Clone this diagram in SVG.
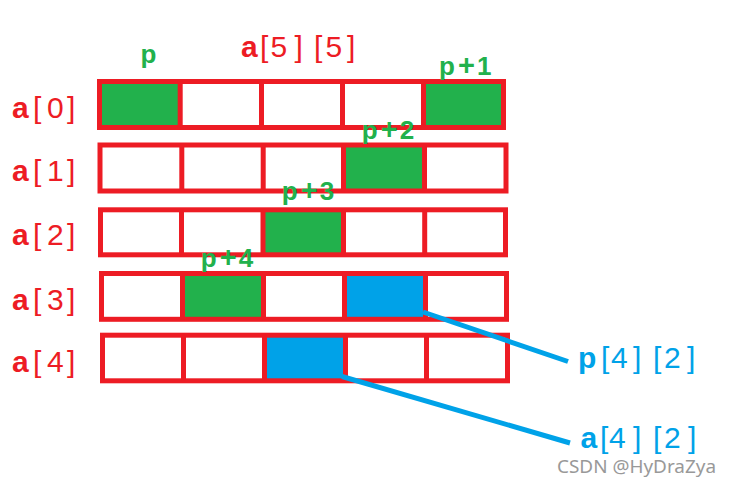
<svg xmlns="http://www.w3.org/2000/svg" width="732" height="488" viewBox="0 0 732 488">
<style>
.box{fill:none;stroke:#ED1C24;stroke-width:5}
.sep{stroke:#ED1C24;stroke-width:5}
.g{fill:#22B14C}
.b{fill:#00A2E8}
.lbl{font-family:"Liberation Sans",Arial,sans-serif;font-size:30px;font-weight:normal}
.red{fill:#ED1C24}
.blue{fill:#00A2E8}
.bold{font-weight:bold}
.gl{font-family:"Liberation Sans",Arial,sans-serif;font-size:26px;font-weight:bold;fill:#22B14C}
.plus{font-size:29px}
.conn{stroke:#00A2E8;stroke-width:5;fill:none}
.wm{font-family:"Noto Sans","Open Sans",sans-serif;font-size:18px;fill:#999999}
</style>
<rect width="732" height="488" fill="#ffffff"/>

<g id="row0">
<rect class="g" x="99.5" y="81.5" width="80.7" height="46"/>
<rect class="g" x="423.5" y="81.5" width="80" height="46"/>
<rect class="box" x="99.5" y="81.5" width="404" height="46"/>
<line class="sep" x1="180.2" y1="81.5" x2="180.2" y2="127.5"/>
<line class="sep" x1="261.5" y1="81.5" x2="261.5" y2="127.5"/>
<line class="sep" x1="342.5" y1="81.5" x2="342.5" y2="127.5"/>
<line class="sep" x1="423.5" y1="81.5" x2="423.5" y2="127.5"/>
</g>

<g id="row1">
<rect class="g" x="343.5" y="145" width="81" height="46"/>
<rect class="box" x="100" y="145" width="406" height="46"/>
<line class="sep" x1="181.8" y1="145" x2="181.8" y2="191"/>
<line class="sep" x1="263.2" y1="145" x2="263.2" y2="191"/>
<line class="sep" x1="343.5" y1="145" x2="343.5" y2="191"/>
<line class="sep" x1="424.5" y1="145" x2="424.5" y2="191"/>
</g>

<g id="row2">
<rect class="g" x="263" y="209.8" width="80.5" height="45"/>
<rect class="box" x="100.5" y="209.8" width="405" height="45"/>
<line class="sep" x1="181.5" y1="209.8" x2="181.5" y2="254.8"/>
<line class="sep" x1="263" y1="209.8" x2="263" y2="254.8"/>
<line class="sep" x1="343.5" y1="209.8" x2="343.5" y2="254.8"/>
<line class="sep" x1="424.7" y1="209.8" x2="424.7" y2="254.8"/>
</g>

<g id="row3">
<rect class="g" x="182.5" y="273.5" width="81" height="45.8"/>
<rect class="b" x="344.5" y="273.5" width="81" height="45.8"/>
<rect class="box" x="101.5" y="273.5" width="405" height="45.8"/>
<line class="sep" x1="182.5" y1="273.5" x2="182.5" y2="319.3"/>
<line class="sep" x1="263.5" y1="273.5" x2="263.5" y2="319.3"/>
<line class="sep" x1="344.5" y1="273.5" x2="344.5" y2="319.3"/>
<line class="sep" x1="425.5" y1="273.5" x2="425.5" y2="319.3"/>
</g>

<g id="row4">
<rect class="b" x="264.5" y="335.2" width="81" height="45.6"/>
<rect class="box" x="102.5" y="335.2" width="405" height="45.6"/>
<line class="sep" x1="183.5" y1="335.2" x2="183.5" y2="380.8"/>
<line class="sep" x1="264.5" y1="335.2" x2="264.5" y2="380.8"/>
<line class="sep" x1="345.5" y1="335.2" x2="345.5" y2="380.8"/>
<line class="sep" x1="426.5" y1="335.2" x2="426.5" y2="380.8"/>
</g>

<g id="connectors">
<line class="conn" x1="423" y1="312" x2="568" y2="361.5"/>
<line class="conn" x1="342" y1="376.5" x2="570" y2="443"/>
</g>

<g id="title">
<text class="lbl red" x="241 260 270.5 294.5 314 325.5 347" y="57"><tspan class="bold">a</tspan>[5][5]</text>
</g>

<g id="row-labels">
<text class="lbl red" x="12 33 47 67" y="118"><tspan class="bold">a</tspan>[0]</text>
<text class="lbl red" x="12 33 47 67" y="181"><tspan class="bold">a</tspan>[1]</text>
<text class="lbl red" x="12 33 47 67" y="245"><tspan class="bold">a</tspan>[2]</text>
<text class="lbl red" x="12 33 47 67" y="310"><tspan class="bold">a</tspan>[3]</text>
<text class="lbl red" x="12 33 47 67" y="372"><tspan class="bold">a</tspan>[4]</text>
</g>

<g id="pointer-labels">
<text class="gl" x="140.5" y="63">p</text>
<text class="gl" x="439 458 477" y="75">p<tspan class="plus">+</tspan>1</text>
<text class="gl" x="361.7 380.7 399.7" y="138.5">p<tspan class="plus">+</tspan>2</text>
<text class="gl" x="281.7 300.7 319.7" y="200">p<tspan class="plus">+</tspan>3</text>
<text class="gl" x="200.7 219.7 238.7" y="267">p<tspan class="plus">+</tspan>4</text>
</g>

<g id="p42">
<text class="lbl blue" x="578 601 611 633 653 664 687" y="368"><tspan class="bold">p</tspan>[4][2]</text>
</g>
<g id="a42">
<text class="lbl blue" x="580.5 600 609 633 653 664 688" y="448"><tspan class="bold">a</tspan>[4][2]</text>
</g>

<text class="wm" x="557" y="473" textLength="159" lengthAdjust="spacingAndGlyphs">CSDN @HyDraZya</text>
</svg>
